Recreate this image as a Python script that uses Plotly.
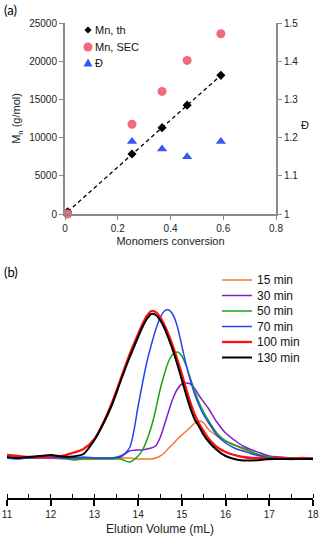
import plotly.graph_objects as go

# ---------------- Panel (a) data ----------------
conversion = [0.01, 0.254, 0.368, 0.463, 0.591]
mn_th = [300, 7850, 11300, 14250, 18150]
mn_sec = [0, 11750, 16050, 20100, 23600]
dispersity = [None, 1.19, 1.17, 1.15, 1.19]
legend_a = ["Mn, th", "Mn, SEC", "Đ"]

# ---------------- Panel (b) data ----------------
elution = [11.0, 11.25, 11.5, 11.75, 12.0, 12.25, 12.5, 12.75, 13.0, 13.2, 13.4, 13.6, 13.8,
           14.0, 14.1, 14.2, 14.3, 14.4, 14.5, 14.6, 14.7, 14.8, 14.9, 15.0, 15.1, 15.2,
           15.3, 15.4, 15.5, 15.6, 15.8, 16.0, 16.2, 16.4, 16.6, 16.8, 17.0, 17.25, 17.5,
           17.75, 18.0]
sig_15 = [0, 0, 0, 0, 0, -1, -1, -1, -1, -1, -1, 0, 0,
          -1, -1, -1, -1, 0, 2, 5, 10, 14, 19, 23, 27, 31,
          35, 37, 35, 29, 22, 17, 13, 9, 5, 3, 1, 0, 0,
          0, 0]
sig_30 = [0, 0, 0, 0, 0, 0, 0, 0, 0, 0, 0, 1, 7,
          8, 8, 9, 10, 12, 20, 33, 47, 60, 69, 74, 75, 74,
          69, 62, 56, 50, 36, 25, 18, 12, 8, 5, 2, 1, 0,
          0, 0]
sig_50 = [0, 0, 0, 2, 1, 0, -2, -1, -1, -1, -1, -1, -4,
          2, 8, 18, 31, 48, 68, 84, 97, 104, 106, 102, 92, 79,
          66, 55, 46, 38, 25, 17, 13, 10, 6, 3, 1, 0, 0,
          0, -1]
sig_70 = [0, -1, 0, 1, 1, 0, 0, 1, 0, 0, 0, 2, 10,
          52, 75, 96, 113, 128, 140, 147, 148, 143, 131, 112, 93, 77,
          63, 52, 43, 36, 23, 15, 10, 7, 4, 2, 0, -1, -1,
          0, -1]
sig_100 = [3, 2, 1, 1, 2, 2, 5, 9, 19, 35, 55, 79, 103,
           124, 134, 142, 147, 146, 141, 133, 123, 111, 98, 84, 69, 55,
           43, 34, 27, 20, 11, 6, 3, 1, 0, 0, -1, 0, -1,
           0, -1]
sig_130 = [1, 0, 1, 2, 3, 1.5, 1.5, 4, 18, 34, 53, 77, 100,
           121, 131, 139, 144, 143, 138, 130, 119, 107, 93, 78, 63, 49,
           38, 31, 23, 17, 8, 2, -1, -2.5, -2.5, -2, -1, -1, -1,
           -1, -1]
labels_b = ["15 min", "30 min", "50 min", "70 min", "100 min", "130 min"]
signals_b = [sig_15, sig_30, sig_50, sig_70, sig_100, sig_130]

# ---------------- styles ----------------
colors_b = ["#F7792E", "#7A22C8", "#17A317", "#2346F5", "#FF1010", "#000000"]
widths_b = [1.5, 1.5, 1.5, 1.5, 2.3, 2.0]
C_TH, C_SEC, C_D = "black", "#EF6A80", "#3559EE"

W, H = 321, 538
FONT = "Liberation Sans, Arial, sans-serif"
AXC = "#8A8A8A"


def px_x(p):
    return p / W


def px_y(p):
    return (H - p) / H


fig = go.Figure()

# Panel (a)
fig.add_trace(go.Scatter(
    x=conversion, y=mn_th, mode="lines", showlegend=False,
    line=dict(color=C_TH, dash="4px,3px", width=1.3),
    xaxis="x", yaxis="y", hoverinfo="skip"))
fig.add_trace(go.Scatter(
    x=conversion, y=mn_th, name=legend_a[0], mode="markers", showlegend=False,
    marker=dict(symbol="diamond", size=7, color=C_TH),
    xaxis="x", yaxis="y", cliponaxis=False))
fig.add_trace(go.Scatter(
    x=conversion, y=mn_sec, name=legend_a[1], mode="markers", showlegend=False,
    marker=dict(symbol="circle", size=9, color=C_SEC),
    xaxis="x", yaxis="y", cliponaxis=False))
fig.add_trace(go.Scatter(
    x=conversion, y=dispersity, name=legend_a[2], mode="markers", showlegend=False,
    marker=dict(symbol="triangle-up", size=9, color=C_D),
    xaxis="x", yaxis="y2", cliponaxis=False))

# Panel (b)
for name, sig, col, w in zip(labels_b, signals_b, colors_b, widths_b):
    fig.add_trace(go.Scatter(
        x=elution, y=sig, name=name, mode="lines", showlegend=False,
        line=dict(color=col, width=w, shape="spline", smoothing=0.8),
        xaxis="x2", yaxis="y3"))

shapes = []
annotations = []

# manual legend for panel (a)
leg_a_rows = [30, 47, 63]
mx, tx = 88, 93
d = 3.6  # half size of diamond in px
y0 = leg_a_rows[0]
shapes.append(dict(type="path", xref="paper", yref="paper", line=dict(width=0),
                   fillcolor=C_TH,
                   path=f"M {px_x(mx)},{px_y(y0 - d)} L {px_x(mx + d)},{px_y(y0)} "
                        f"L {px_x(mx)},{px_y(y0 + d)} L {px_x(mx - d)},{px_y(y0)} Z"))
y1 = leg_a_rows[1]
shapes.append(dict(type="circle", xref="paper", yref="paper", line=dict(width=0),
                   fillcolor=C_SEC, x0=px_x(mx - 4.5), x1=px_x(mx + 4.5),
                   y0=px_y(y1 + 4.5), y1=px_y(y1 - 4.5)))
y2 = leg_a_rows[2]
shapes.append(dict(type="path", xref="paper", yref="paper", line=dict(width=0),
                   fillcolor=C_D,
                   path=f"M {px_x(mx)},{px_y(y2 - 4.5)} L {px_x(mx + 4.5)},{px_y(y2 + 3.5)} "
                        f"L {px_x(mx - 4.5)},{px_y(y2 + 3.5)} Z"))
for lab, yy in zip(legend_a, leg_a_rows):
    annotations.append(dict(text=lab, x=px_x(tx), y=px_y(yy), xref="paper", yref="paper",
                            xanchor="left", yanchor="middle", showarrow=False,
                            font=dict(size=11, color="#111")))

# manual legend for panel (b)
leg_b_rows = [280, 295.5, 311, 326.5, 342, 357.5]
for lab, col, w, yy in zip(labels_b, colors_b, widths_b, leg_b_rows):
    shapes.append(dict(type="line", xref="paper", yref="paper",
                       x0=px_x(222), x1=px_x(252), y0=px_y(yy), y1=px_y(yy),
                       line=dict(color=col, width=w)))
    annotations.append(dict(text=lab, x=px_x(255), y=px_y(yy), xref="paper", yref="paper",
                            xanchor="left", yanchor="middle", showarrow=False,
                            font=dict(size=12, color="#111")))

annotations += [
    dict(text="(a)", x=px_x(2), y=px_y(10), xref="paper", yref="paper",
         xanchor="left", yanchor="middle", showarrow=False,
         font=dict(size=13, family="Lato, Open Sans, sans-serif", color="black")),
    dict(text="(b)", x=px_x(2), y=px_y(272), xref="paper", yref="paper",
         xanchor="left", yanchor="middle", showarrow=False,
         font=dict(size=13, family="Lato, Open Sans, sans-serif", color="black")),
    dict(text="Đ", x=px_x(305), y=px_y(125), xref="paper", yref="paper",
         xanchor="center", yanchor="middle", showarrow=False,
         font=dict(size=11, color="#111")),
]

fig.update_layout(
    width=W, height=H,
    margin=dict(l=0, r=0, t=0, b=0, autoexpand=False),
    paper_bgcolor="white", plot_bgcolor="white",
    font=dict(family=FONT, size=10, color="#222"),
    showlegend=False,
    xaxis=dict(domain=[px_x(65), px_x(276)], anchor="y", range=[0, 0.8], dtick=0.2,
               automargin=False,
               showline=True, linecolor=AXC, linewidth=2, ticks="outside",
               ticklen=4, tickcolor=AXC, showgrid=False, zeroline=False,
               tickfont=dict(size=10),
               title=dict(text="Monomers conversion", font=dict(size=11), standoff=4)),
    yaxis=dict(domain=[px_y(214), px_y(23)], anchor="x", range=[0, 25000],
               dtick=5000, tickformat="d", automargin=False,
               showline=True, linecolor=AXC, linewidth=2,
               ticks="outside", ticklen=4, tickcolor=AXC, showgrid=False,
               zeroline=False, tickfont=dict(size=10),
               title=dict(text="M<sub>n</sub> (g/mol)", font=dict(size=11), standoff=6)),
    yaxis2=dict(overlaying="y", anchor="x", side="right", range=[1, 1.5],
                dtick=0.1, automargin=False, showline=True, linecolor=AXC, linewidth=2,
                ticks="outside", ticklen=4, tickcolor=AXC, showgrid=False,
                zeroline=False, tickfont=dict(size=10)),
    xaxis2=dict(domain=[px_x(7), px_x(313)], anchor="y3", range=[11, 18], dtick=1,
                automargin=False,
                showline=True, linecolor="black", linewidth=1.5, ticks="outside",
                ticklen=6, tickwidth=1.5, tickcolor="black", showgrid=False,
                zeroline=False, tickfont=dict(size=10),
                minor=dict(dtick=0.5, ticks="inside", ticklen=4, tickcolor="black", tickwidth=1.2),
                title=dict(text="Elution Volume (mL)", font=dict(size=12), standoff=6)),
    yaxis3=dict(domain=[px_y(498), px_y(290)], anchor="x2", automargin=False,
                range=[-40, 168], visible=False),
    shapes=shapes,
    annotations=annotations,
)

fig.write_html("out.html",
               config={"displayModeBar": False},
               post_script="document.body.style.margin='0';document.body.style.overflow='hidden';")
